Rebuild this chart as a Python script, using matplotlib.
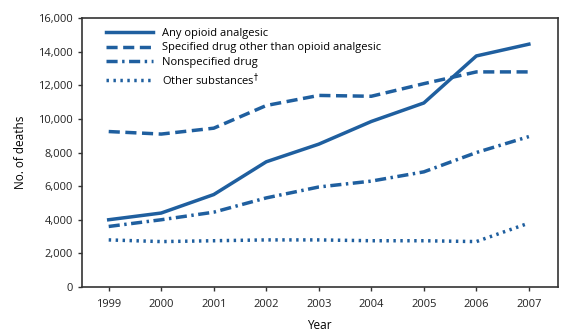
import matplotlib
matplotlib.use("Agg")
import matplotlib.pyplot as plt

years = [1999, 2000, 2001, 2002, 2003, 2004, 2005, 2006, 2007]
any_opioid = [4000, 4400, 5500, 7450, 8500, 9850, 10950, 13750, 14450]
specified_other = [9250, 9100, 9450, 10800, 11400, 11350, 12100, 12800, 12800]
nonspecified = [3600, 4000, 4450, 5300, 5950, 6300, 6850, 8000, 8950]
other_subst = [2800, 2700, 2750, 2800, 2800, 2750, 2750, 2700, 3800]
labels = ["Any opioid analgesic", "Specified drug other than opioid analgesic",
          "Nonspecified drug", "Other substances$^\u2020$"]

plt.rcParams['font.family'] = ['Open Sans', 'DejaVu Sans']
color = "#1f5f9f"
fig = plt.figure(figsize=(5.81, 3.36), dpi=100)
ax = fig.add_axes([0.141, 0.146, 0.819, 0.800])

lw = 2.5
ax.plot(years, any_opioid, color=color, lw=lw, ls='-', label=labels[0])
ax.plot(years, specified_other, color=color, lw=lw, ls=(0, (3.2, 1.6)), label=labels[1])
ax.plot(years, nonspecified, color=color, lw=lw, ls=(0, (3.2, 1.3, 0.7, 1.3)), label=labels[2])
ax.plot(years, other_subst, color=color, lw=lw, ls=(0, (0.7, 1.3)), label=labels[3])

ax.set_xlim(1998.49, 2007.55)
ax.set_ylim(0, 16000)
ax.set_xticks(years)
ax.set_yticks(range(0, 16001, 2000))
ax.set_yticklabels([f"{v:,}" for v in range(0, 16001, 2000)])
ax.tick_params(axis='both', labelsize=8, color='#333333', labelcolor='#222222',
               direction='out', length=3, width=1)
for s in ax.spines.values():
    s.set_color('#333333')
    s.set_linewidth(1.2)
ax.tick_params(axis='x', pad=6)
ax.set_xlabel("Year", fontsize=8.5, labelpad=6)
ax.set_ylabel("No. of deaths", fontsize=8.5, labelpad=8)

leg = ax.legend(loc='upper left', bbox_to_anchor=(0.03, 1.0), frameon=False, fontsize=8,
                handlelength=4.2, handletextpad=0.8, labelspacing=0.3)
fig.savefig("out.png", dpi=100)
